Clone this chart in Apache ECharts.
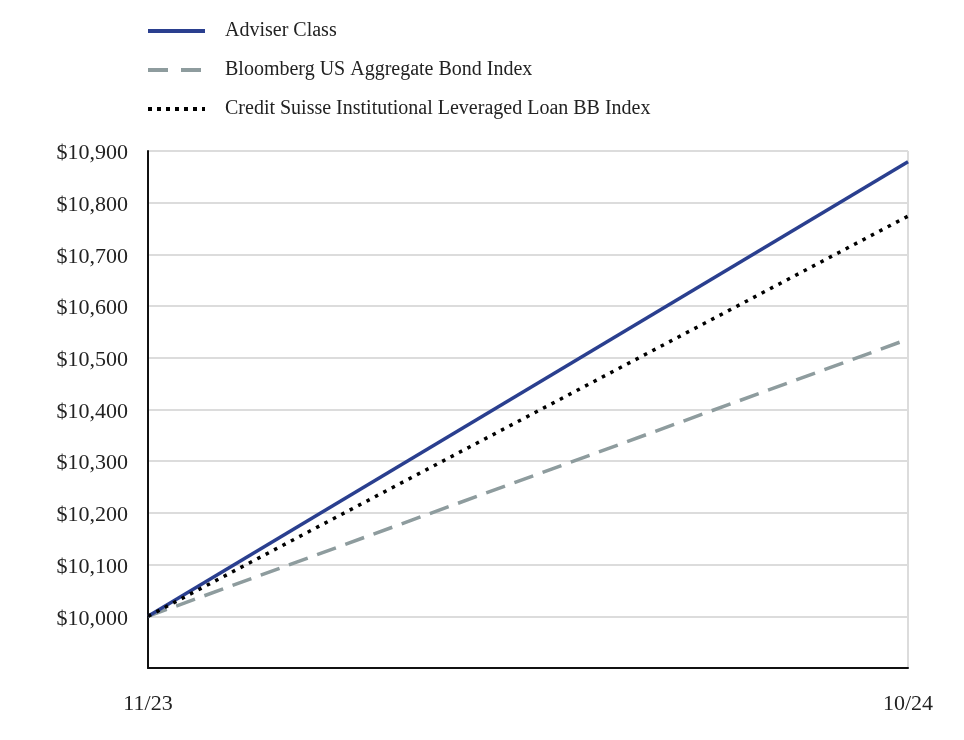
<!DOCTYPE html>
<html><head><meta charset="utf-8">
<script src="https://cdn.jsdelivr.net/npm/echarts@6/dist/echarts.min.js"></script>
<style>html,body{margin:0;padding:0;background:#fff}#c{width:964px;height:740px}</style>
</head><body><div id="c"></div>
<script>
var categories = ['11/23', '10/24'];
var adviser = [10000, 10879];
var bloomberg = [10000, 10536];
var creditSuisse = [10000, 10774];
var seriesNames = ['Adviser Class', 'Bloomberg US Aggregate Bond Index', 'Credit Suisse Institutional Leveraged Loan BB Index'];
var yMin = 9900, yMax = 10900, yStep = 100;

var font = '"Liberation Serif", "DejaVu Serif", serif';
var chart = echarts.init(document.getElementById('c'), null, {renderer: 'canvas'});
chart.setOption({
  animation: false,
  backgroundColor: '#fff',
  legend: {
    orient: 'vertical', left: 141, top: 16, itemWidth: 57, itemHeight: 14, itemGap: 19,
    itemStyle: {opacity: 0},
    lineStyle: {width: 4},
    textStyle: {fontFamily: font, fontSize: 20, color: '#222', padding: [0, 0, 0, 15]},
    data: [
      {name: seriesNames[0]},
      {name: seriesNames[1], lineStyle: {type: [20, 13], width: 4}},
      {name: seriesNames[2], lineStyle: {type: [4, 5], width: 4}}
    ]
  },
  grid: {left: 148, right: 56, top: 151, bottom: 72},
  xAxis: {
    type: 'category', data: categories, boundaryGap: false,
    axisLine: {lineStyle: {color: '#111', width: 2}},
    axisTick: {show: false},
    axisLabel: {fontFamily: font, fontSize: 22, color: '#222', margin: 25},
    splitLine: {show: true, lineStyle: {color: '#dcdcdc', width: 2}}
  },
  yAxis: {
    type: 'value', min: yMin, max: yMax, interval: yStep,
    axisLine: {show: true, lineStyle: {color: '#111', width: 2}},
    axisTick: {show: false},
    axisLabel: {fontFamily: font, fontSize: 22, color: '#222', margin: 20,
      formatter: function (v) { return v === yMin ? '' : '{a|$' + v.toLocaleString('en-US') + '}'; },
      rich: {a: {fontFamily: font, fontSize: 22, color: '#222', padding: [5, 0, 0, 0]}}},
    splitLine: {lineStyle: {color: '#dcdcdc', width: 2}}
  },
  series: [
    {name: seriesNames[0], type: 'line', data: adviser, symbol: 'none', z: 3,
      lineStyle: {color: '#2a3f8f', width: 3.5}, itemStyle: {color: '#2a3f8f'}},
    {name: seriesNames[1], type: 'line', data: bloomberg, symbol: 'none', z: 2,
      lineStyle: {color: '#8e9c9e', width: 3.5, type: [20, 10]}, itemStyle: {color: '#8e9c9e'}},
    {name: seriesNames[2], type: 'line', data: creditSuisse, symbol: 'none', z: 4,
      lineStyle: {color: '#000', width: 3.5, type: [3.5, 6]}, itemStyle: {color: '#000'}}
  ]
});
</script></body></html>
